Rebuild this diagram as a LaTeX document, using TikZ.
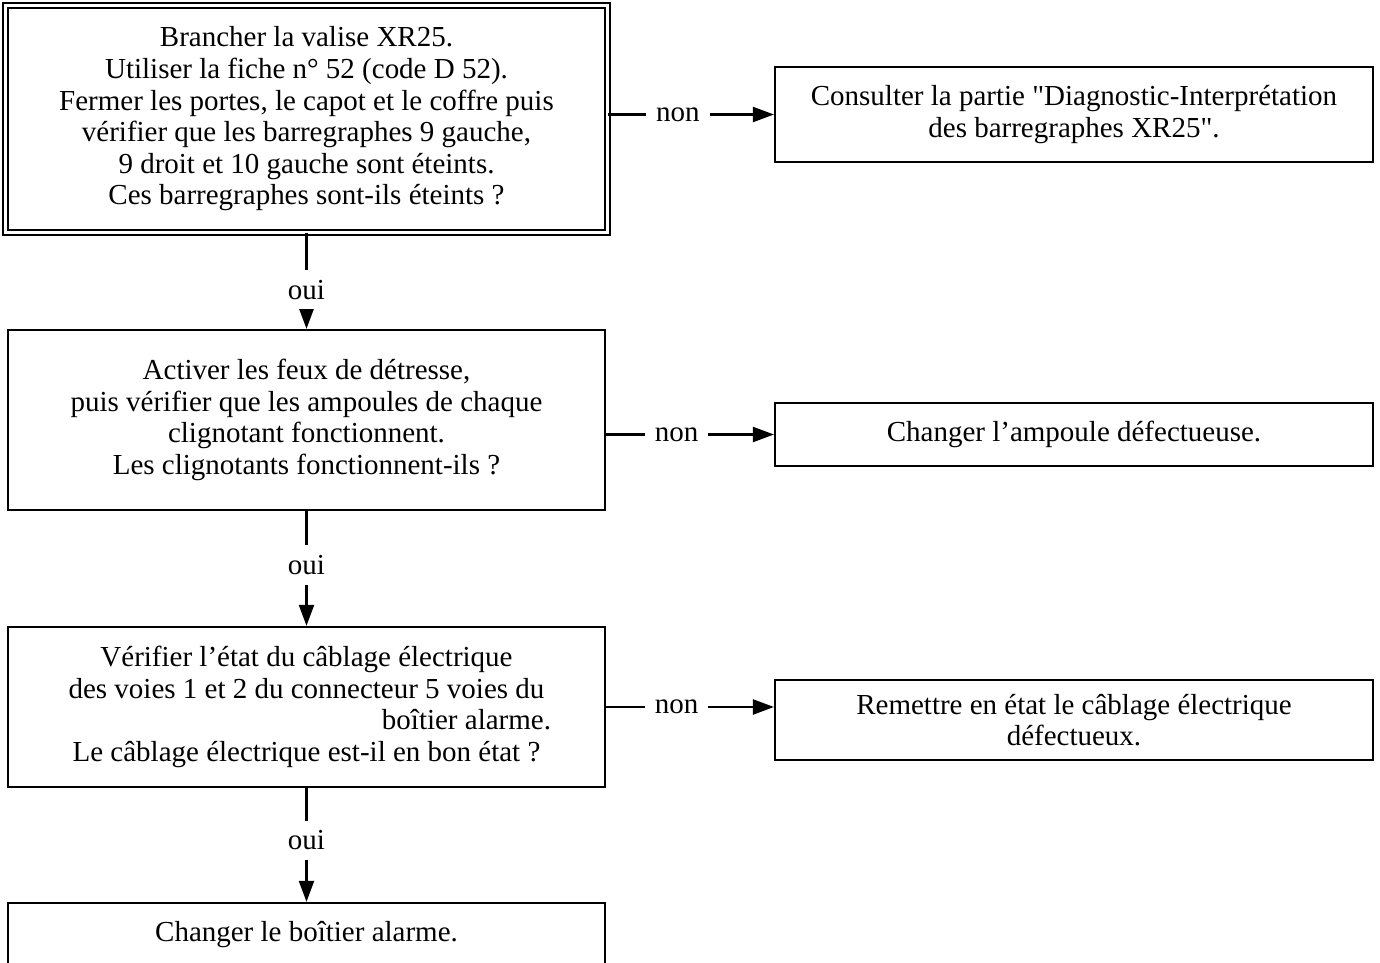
\documentclass[tikz,border=0pt]{standalone}
\usepackage{fontspec}
\setmainfont{Liberation Serif}
\usetikzlibrary{arrows.meta}
\tikzset{
  boite/.style={draw, line width=1.3pt, align=center, inner sep=0pt,
    font=\fontsize{16.5pt}{18pt}\selectfont},
  rep/.style={fill=white, inner sep=0.2cm, font=\fontsize{16.5pt}{18pt}\selectfont},
  fleche/.style={line width=1.3pt, -{Triangle[length=0.42cm,width=0.3cm]}}
}
\begin{document}
\begin{tikzpicture}[x=0.02cm,y=-0.02cm]
\clip (0,0) rectangle (1380,963);
% questions (left column)
\node[boite, double, line width=1.1pt, double distance=1.8pt,
  minimum width=12.04cm, minimum height=4.54cm] (q1) at (306.5,119)
  {Brancher la valise XR25.\\
   Utiliser la fiche n° 52 (code D 52).\\
   Fermer les portes, le capot et le coffre puis\\
   vérifier que les barregraphes 9 gauche,\\
   9 droit et 10 gauche sont éteints.\\
   Ces barregraphes sont-ils éteints ?};
\node[boite, minimum width=11.94cm, minimum height=3.6cm] (q2) at (306.5,420)
  {Activer les feux de détresse,\\
   puis vérifier que les ampoules de chaque\\
   clignotant fonctionnent.\\
   Les clignotants fonctionnent-ils ?};
\node[boite, minimum width=11.94cm, minimum height=3.2cm] (q3) at (306.5,707)
  {Vérifier l’état du câblage électrique\\
   des voies 1 et 2 du connecteur 5 voies du\\
   \hspace*{6.4cm}boîtier alarme.\\
   Le câblage électrique est-il en bon état ?};
\node[boite, minimum width=11.94cm, minimum height=1.28cm] (q4) at (306.5,935)
  {Changer le boîtier alarme.};
% remedies (right column)
\node[boite, minimum width=11.96cm, minimum height=1.9cm] (r1) at (1074,114.5)
  {Consulter la partie \textquotedbl Diagnostic-Interprétation\\
   des barregraphes XR25\textquotedbl.};
\node[boite, minimum width=11.96cm, minimum height=1.26cm] (r2) at (1074,434.5)
  {Changer l’ampoule défectueuse.};
\node[boite, minimum width=11.96cm, minimum height=1.6cm] (r3) at (1074,720)
  {Remettre en état le câblage électrique\\
   défectueux.};
% oui
\draw[fleche] (q1) -- node[rep, pos=0.59]{oui} (q2);
\draw[fleche] (q2) -- node[rep, pos=0.47]{oui} (q3);
\draw[fleche] (q3) -- node[rep, pos=0.46]{oui} (q4);
% non
\draw[fleche] (q1.east |- r1.west) -- node[rep, pos=0.42]{non} (r1.west);
\draw[fleche] (q2.east |- r2.west) -- node[rep, pos=0.42]{non} (r2.west);
\draw[fleche] (q3.east) -- node[rep, pos=0.42]{non} (q3.east -| r3.west);
\end{tikzpicture}
\end{document}
